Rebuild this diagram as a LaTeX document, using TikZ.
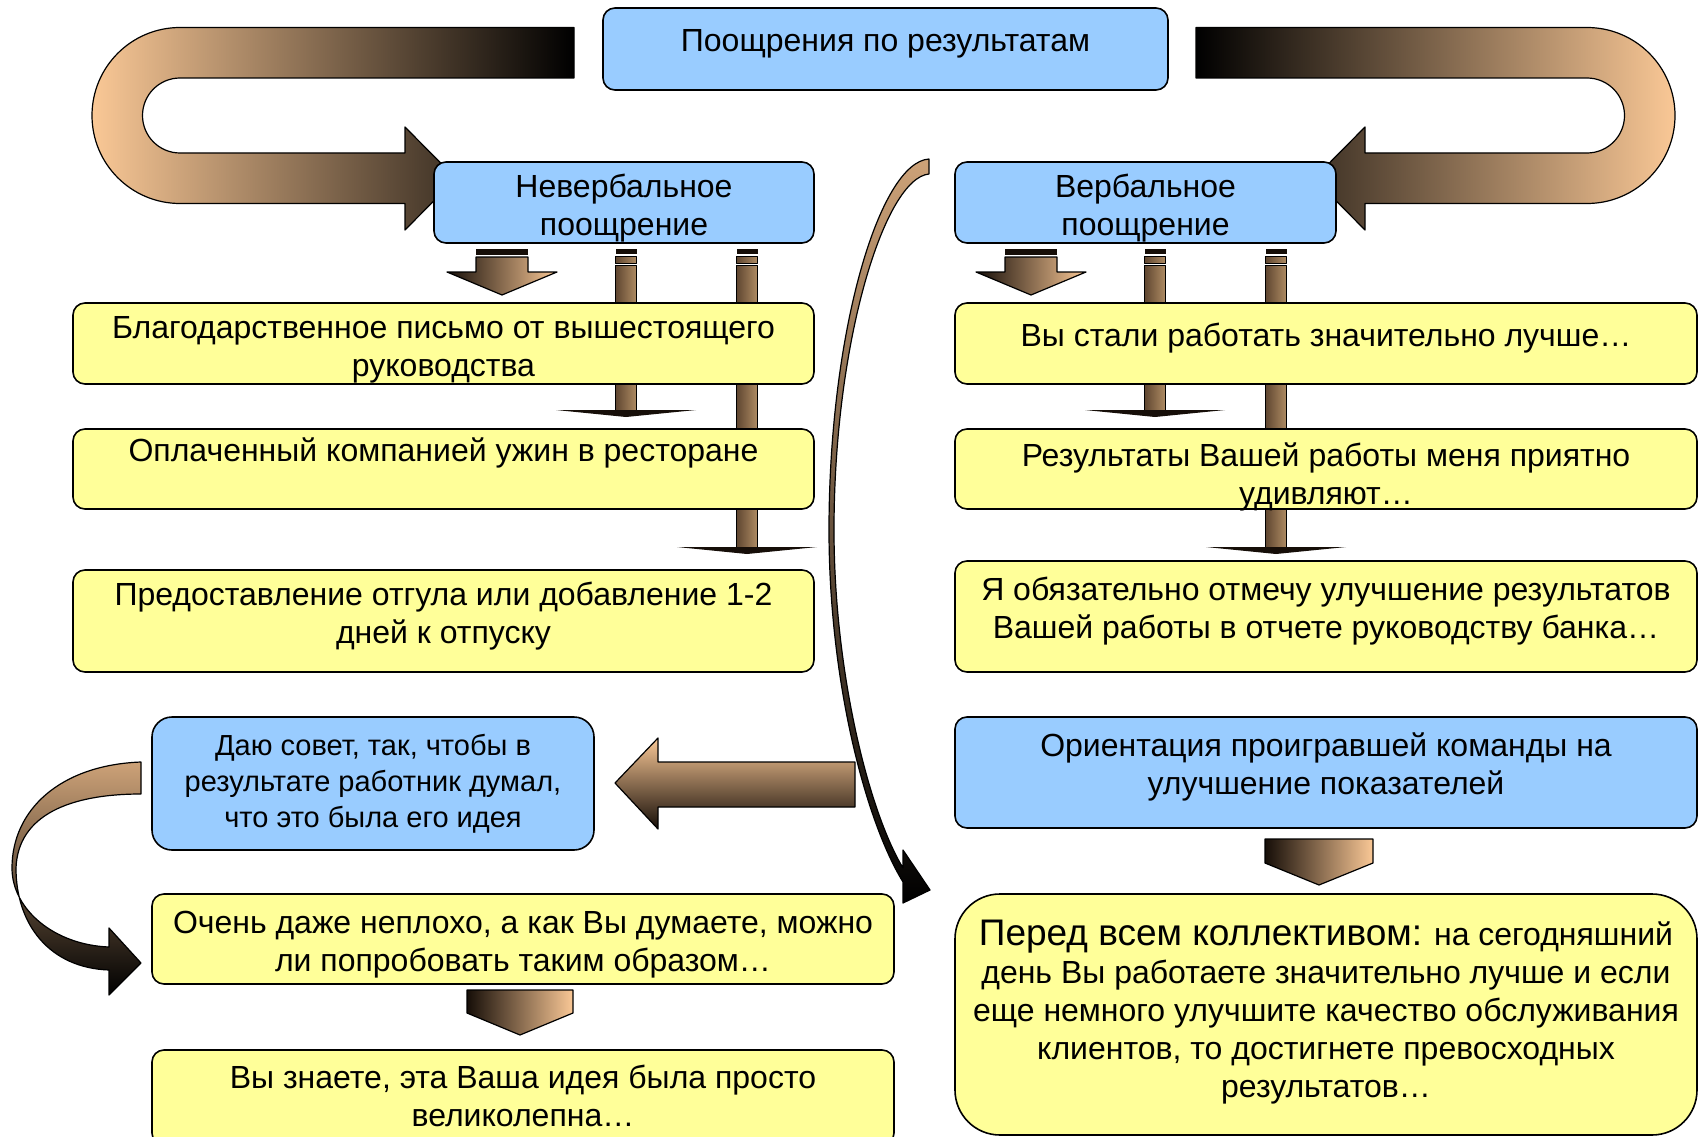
\documentclass[tikz,border=0pt]{standalone}
\usepackage{fontspec}
\setmainfont{Liberation Sans}
\definecolor{boxBlue}{RGB}{153,204,255}
\definecolor{boxYellow}{RGB}{255,255,153}
\definecolor{peach}{RGB}{250,200,150}
\definecolor{tanB}{RGB}{205,162,120}
\definecolor{darkB}{RGB}{22,14,8}
\definecolor{shaftL}{RGB}{95,70,48}
\definecolor{shaftR}{RGB}{175,140,100}

\begin{document}
\begin{tikzpicture}[x=1pt, y=-1pt, line join=round,
  box/.style={draw=black, line width=1.6pt, rounded corners=12pt, inner sep=0pt},
  bluebox/.style={box, fill=boxBlue},
  yellowbox/.style={box, fill=boxYellow},
  txt/.style={align=center, inner sep=0pt, font=\fontsize{32}{38}\selectfont},
  flow/.style={draw=black, line width=1.2pt}]
\useasboundingbox (0,0) rectangle (1706,1137);
% ---------- верхние U-стрелки ----------
\draw[flow, left color=peach, right color=black]
  (574,27.5) -- (180,27.5) arc[start angle=270, end angle=90, radius=88]
  -- (405,203.5) -- (405,230) -- (456,178.5) -- (405,127) -- (405,153)
  -- (180,153) arc[start angle=90, end angle=270, radius=37.5] -- (574,78) -- cycle;
\draw[flow, left color=black, right color=peach]
  (1196,27.5) -- (1587,27.5) arc[start angle=270, end angle=450, radius=88]
  -- (1365,203.5) -- (1365,230) -- (1314,178.5) -- (1365,127) -- (1365,153)
  -- (1587,153) arc[start angle=90, end angle=-90, radius=37.5] -- (1196,78) -- cycle;
% ---------- тонкие стрелки (за блоками) ----------
\foreach \cx/\hy in {626/410, 747/547, 1155/410, 1276/547} {
  \fill[darkB] (\cx-10.5,249) rectangle (\cx+10.5,254);
  \draw[line width=0.8pt, left color=shaftL, right color=shaftR] (\cx-10.5,256) rectangle (\cx+10.5,263);
  \draw[line width=0.8pt, left color=shaftL, right color=shaftR] (\cx-10.5,265) rectangle (\cx+10.5,\hy);
  \fill[darkB] (\cx-70,\hy) -- (\cx+70,\hy) -- (\cx,\hy+7) -- cycle;
}
% ---------- толстые стрелки вниз ----------
\foreach \cx in {502, 1031} {
  \fill[darkB] (\cx-26,249) rectangle (\cx+26,255);
  \draw[flow, left color=darkB, right color=peach]
    (\cx-26,257) -- (\cx-26,272) -- (\cx-55,272) -- (\cx,295) -- (\cx+55,272)
    -- (\cx+26,272) -- (\cx+26,257) -- cycle;
}
\draw[flow, left color=darkB, right color=peach]
  (1265,839) -- (1373,839) -- (1373,863) -- (1319,885) -- (1265,863) -- cycle;
\draw[flow, left color=darkB, right color=peach]
  (467,990) -- (573,990) -- (573,1013) -- (520,1035) -- (467,1013) -- cycle;
% ---------- стрелка влево ----------
\draw[flow, top color=peach, bottom color=darkB]
  (855,762) -- (658,762) -- (658,738) -- (615,783) -- (658,829) -- (658,807)
  -- (855,807) -- cycle;
% ---------- изогнутая стрелка в центре ----------
\draw[flow, top color=tanB, bottom color=black]
  (929,159) .. controls (880,162) and (829,330) .. (829,530)
  .. controls (829,680) and (865,820) .. (903,882)
  -- (903,903) -- (930,890) -- (903,850) -- (903,868)
  .. controls (868,810) and (834,670) .. (834,530)
  .. controls (834,340) and (885,178) .. (929,174) -- cycle;
% ---------- лента слева ----------
\draw[flow, top color=tanB, bottom color=black]
  (141,762) .. controls (60,765) and (12,810) .. (12,868)
  .. controls (12,910) and (55,945) .. (109,947)
  -- (109,928) -- (141,963) -- (109,995) -- (109,970)
  .. controls (50,968) and (16,925) .. (16,868)
  .. controls (18,815) and (70,794) .. (141,794) -- cycle;
% ---------- блоки ----------
\node[bluebox, minimum width=565, minimum height=82] (top) at (885.5,49) {};
\node[txt] (topT) at ([yshift=5.5]top.center) {Поощрения по результатам};
\node[bluebox, minimum width=380, minimum height=81] (nonverb) at (624,202.5) {};
\node[txt] (nonverbT) at ([yshift=-5.5]nonverb.center) {Невербальное\\поощрение};
\node[bluebox, minimum width=381, minimum height=81] (verb) at (1145.5,202.5) {};
\node[txt] (verbT) at ([yshift=-5.5]verb.center) {Вербальное\\поощрение};
% левая колонка
\node[yellowbox, minimum width=741, minimum height=81] (letter) at (443.5,343.5) {};
\node[txt] (letterT) at ([yshift=-6.5]letter.center) {Благодарственное письмо от вышестоящего\\руководства};
\node[yellowbox, minimum width=741, minimum height=80] (dinner) at (443.5,469) {};
\node[txt] (dinnerT) at ([yshift=16]dinner.center) {Оплаченный компанией ужин в ресторане};
\node[yellowbox, minimum width=741, minimum height=102] (dayoff) at (443.5,621) {};
\node[txt] (dayoffT) at ([yshift=4.5]dayoff.center) {Предоставление отгула или добавление 1-2\\дней к отпуску};
% правая колонка
\node[yellowbox, minimum width=742, minimum height=81] (better) at (1326,343.5) {};
\node[txt] (betterT) at ([yshift=5.5]better.center) {Вы стали работать значительно лучше…};
\node[yellowbox, minimum width=742, minimum height=80] (surprise) at (1326,469) {};
\node[txt] (surpriseT) at ([yshift=-7.5]surprise.center) {Результаты Вашей работы меня приятно\\удивляют…};
\node[yellowbox, minimum width=742, minimum height=111] (report) at (1326,616.5) {};
\node[txt] (reportT) at ([yshift=5.5]report.center) {Я обязательно отмечу улучшение результатов\\Вашей работы в отчете руководству банка…};
\node[bluebox, minimum width=742, minimum height=111] (team) at (1326,772.5) {};
\node[txt] (teamT) at ([yshift=5.5]team.center) {Ориентация проигравшей команды на\\улучшение показателей};
\node[yellowbox, rounded corners=45pt, minimum width=742, minimum height=241] (public) at (1326,1014.5) {};
\node[txt] (publicT) at ([yshift=2]public.center)
  {{\fontsize{37}{40}\selectfont Перед всем коллективом:} на сегодняшний\\день Вы работаете значительно лучше и если\\еще немного улучшите качество обслуживания\\клиентов, то достигнете превосходных\\результатов…};
% нижний левый блок
\node[bluebox, rounded corners=20pt, minimum width=442, minimum height=133] (advice) at (373,783.5) {};
\node[txt, font=\fontsize{29}{36}\selectfont] (adviceT) at (advice.center)
  {Даю совет, так, чтобы в\\результате работник думал,\\что это была его идея};
\node[yellowbox, minimum width=742, minimum height=90] (try) at (523,939) {};
\node[txt] (tryT) at ([yshift=-5.5]try.center) {Очень даже неплохо, а как Вы думаете, можно\\ли попробовать таким образом…};
\node[yellowbox, minimum width=742, minimum height=95] (idea) at (523,1097.5) {};
\node[txt] (ideaT) at ([yshift=2]idea.center) {Вы знаете, эта Ваша идея была просто\\великолепна…};
\end{tikzpicture}
\end{document}
